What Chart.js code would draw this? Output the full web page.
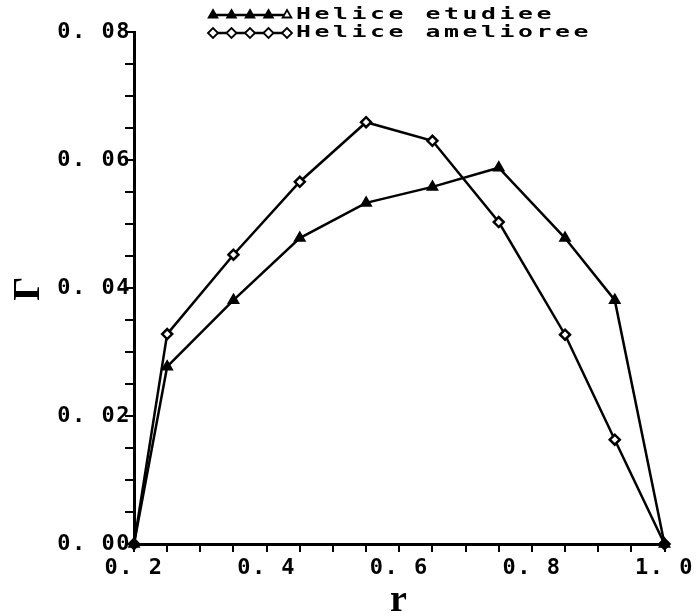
<!DOCTYPE html>
<html>
<head>
<meta charset="utf-8">
<script src="https://cdn.jsdelivr.net/npm/chart.js@4.4.1/dist/chart.umd.min.js"></script>
<style>
    html, body { margin: 0; padding: 0; background: #fff; }
    #wrap { width: 697px; height: 616px; }
</style>
</head>
<body>
<div id="wrap"><canvas id="gammaChart" width="697" height="616"></canvas></div>
<script>
// Rayons adimensionnels et circulation
const radii = [0.2, 0.25, 0.35, 0.45, 0.55, 0.65, 0.75, 0.85, 0.925, 1.0];
const gammaEtudiee = [0, 0.0277, 0.0381, 0.0478, 0.0533, 0.0558, 0.0588, 0.0478, 0.0381, 0];
const gammaAmelioree = [0, 0.0328, 0.0452, 0.0566, 0.0659, 0.0630, 0.0503, 0.0327, 0.0163, 0];
const seriesNames = ['Helice etudiee', 'Helice amelioree'];
const xTickLabels = [0.2, 0.4, 0.6, 0.8, 1.0];
const yTickLabels = [0, 0.02, 0.04, 0.06, 0.08];

const monoFont = '"DejaVu Sans Mono", monospace';

function toPoints(xs, ys) {
    return xs.map((x, i) => ({ x: x, y: ys[i] }));
}

// "0.08" -> "0. 08" comme sur le traceur
function plotterLabel(value, list, digits) {
    const hit = list.find(v => Math.abs(v - value) < 1e-6);
    if (hit === undefined) return '';
    return hit.toFixed(digits).replace('.', '. ');
}

// Légende à la main : trait + 5 symboles, texte étiré
const plotterLegend = {
    id: 'plotterLegend',
    afterDraw(chart) {
        const ctx = chart.ctx;
        chart.data.datasets.forEach((ds, i) => {
            const y = 15 + i * 18;
            ctx.save();
            ctx.letterSpacing = '0px';
            ctx.strokeStyle = '#000';
            ctx.lineWidth = 2.5;
            ctx.beginPath();
            ctx.moveTo(210, y);
            ctx.lineTo(290, y);
            ctx.stroke();
            for (let k = 0; k < 5; k++) {
                ctx.fillStyle = (k === 4) ? '#fff' : ds.pointBackgroundColor;
                ctx.strokeStyle = '#000';
                ctx.lineWidth = 1.8;
                Chart.helpers.drawPoint(ctx, {
                    pointStyle: ds.pointStyle, radius: 5, borderWidth: 1.8, rotation: 0
                }, 213 + k * 18.5, y);
            }
            ctx.fillStyle = '#000';
            ctx.font = 'bold 16px ' + monoFont;
            ctx.textBaseline = 'middle';
            ctx.textAlign = 'left';
            ctx.translate(296, y);
            ctx.scale(1.55, 1);
            ctx.letterSpacing = '2.3px';
            ctx.fillText(ds.label, 0, 0);
            ctx.restore();
        });
    }
};

// espacement des caractères pour les graduations
const spacing = {
    id: 'spacing',
    beforeLayout(chart) { chart.ctx.letterSpacing = '1.5px'; },
    beforeDraw(chart) { chart.ctx.letterSpacing = '1.5px'; }
};

const ctx = document.getElementById('gammaChart').getContext('2d');
new Chart(ctx, {
    type: 'line',
    data: {
        datasets: [
            {
                label: seriesNames[0],
                data: toPoints(radii, gammaEtudiee),
                borderColor: '#000',
                borderWidth: 2.5,
                pointStyle: 'triangle',
                pointRadius: 6,
                pointBackgroundColor: '#000',
                pointBorderColor: '#000',
                pointBorderWidth: 1.5,
                tension: 0,
                clip: false
            },
            {
                label: seriesNames[1],
                data: toPoints(radii, gammaAmelioree),
                borderColor: '#000',
                borderWidth: 2.5,
                pointStyle: 'rectRot',
                pointRadius: 5,
                pointBackgroundColor: '#fff',
                pointBorderColor: '#000',
                pointBorderWidth: 2.5,
                tension: 0,
                clip: false
            }
        ]
    },
    options: {
        responsive: false,
        animation: false,
        devicePixelRatio: 1,
        layout: { padding: { left: 0, right: 30, top: 32, bottom: 0 } },
        plugins: {
            legend: { display: false },
            tooltip: { enabled: false }
        },
        scales: {
            x: {
                type: 'linear',
                min: 0.2,
                max: 1.0,
                ticks: {
                    stepSize: 0.05,
                    autoSkip: false,
                    maxRotation: 0,
                    padding: 3,
                    color: '#000',
                    font: { family: monoFont, size: 22, weight: 'bold' },
                    callback: v => plotterLabel(v, xTickLabels, 1)
                },
                grid: { drawOnChartArea: false, drawTicks: true, tickLength: 8, color: '#000', lineWidth: 2 },
                border: { display: true, color: '#000', width: 3 },
                title: {
                    display: true,
                    text: 'r',
                    color: '#000',
                    font: { family: '"Liberation Serif", serif', size: 38, weight: 'bold', lineHeight: 1 },
                    padding: { top: 0, bottom: -4 }
                },
                afterFit(scale) { scale.height = 72; }
            },
            y: {
                type: 'linear',
                min: 0,
                max: 0.08,
                ticks: {
                    stepSize: 0.005,
                    autoSkip: false,
                    padding: -6,
                    color: '#000',
                    font: { family: monoFont, size: 22, weight: 'bold' },
                    callback: v => plotterLabel(v, yTickLabels, 2)
                },
                grid: { drawOnChartArea: false, drawTicks: true, tickLength: 9, color: '#000', lineWidth: 2 },
                border: { display: true, color: '#000', width: 3 },
                title: {
                    display: true,
                    text: 'Γ',
                    color: '#000',
                    font: { family: '"Liberation Serif", serif', size: 38, weight: 'bold', lineHeight: 1 },
                    padding: { top: 10, bottom: 0 }
                },
                afterFit(scale) { scale.width = 134; }
            }
        }
    },
    plugins: [spacing, plotterLegend]
});
</script>
</body>
</html>
